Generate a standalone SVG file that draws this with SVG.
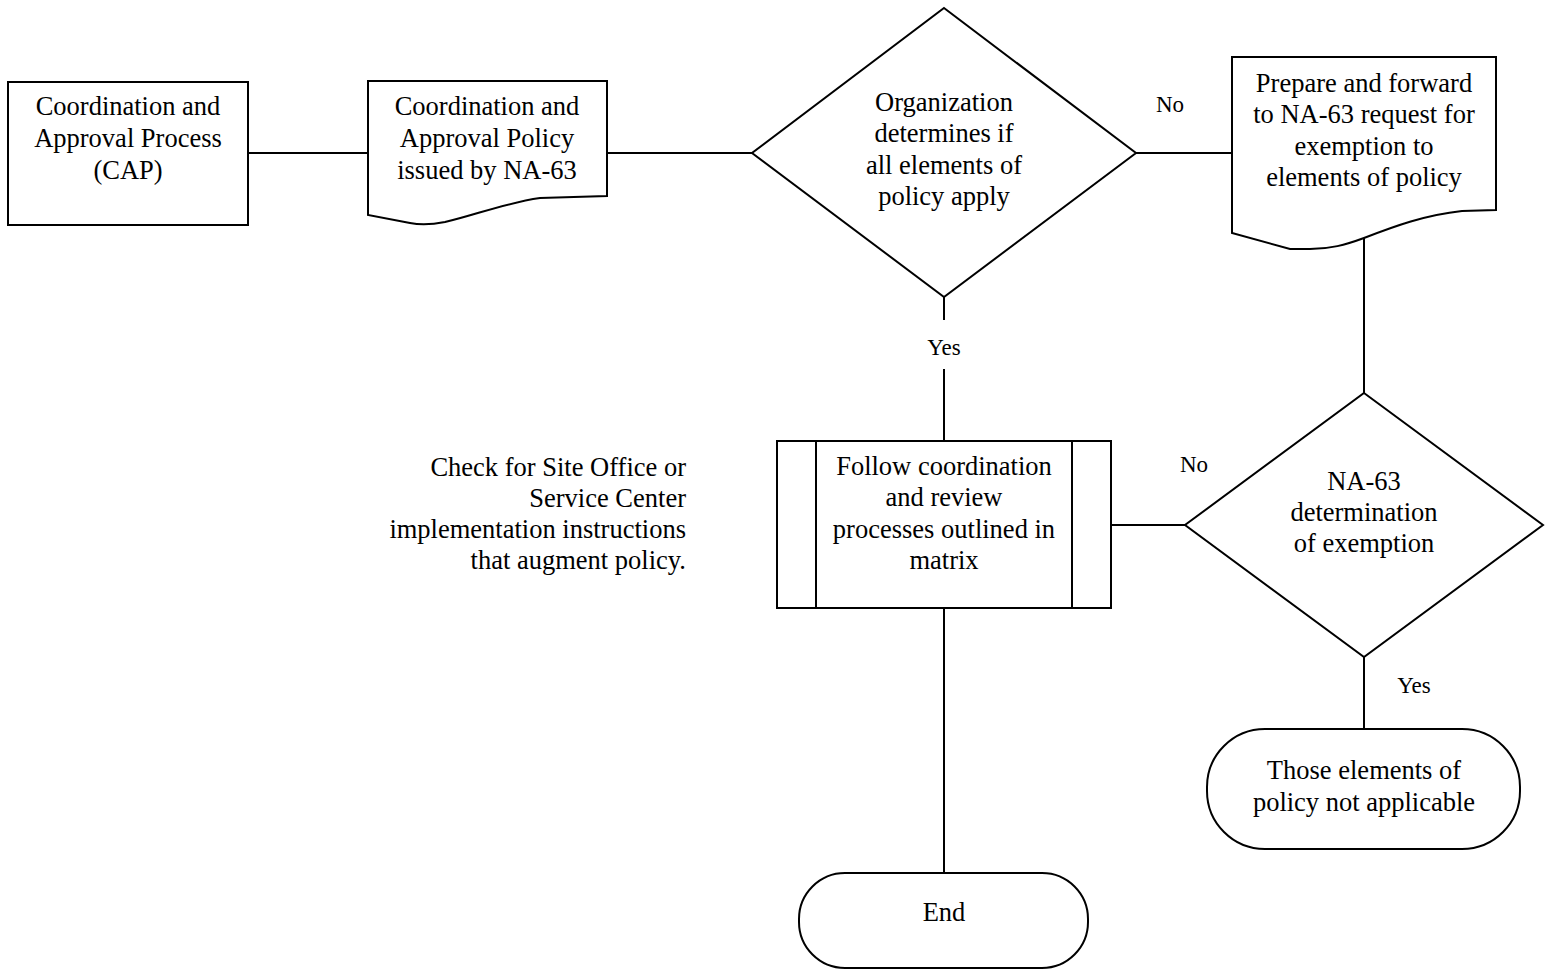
<svg xmlns="http://www.w3.org/2000/svg" width="1551" height="969" viewBox="0 0 1551 969">
<style>
.s{fill:#fff;stroke:#000;stroke-width:2}
.c{fill:none;stroke:#000;stroke-width:2}
text{font-family:"Liberation Serif","Times New Roman",serif;font-size:26.5px;fill:#000;text-anchor:middle}
.l{font-size:23px}
.r{text-anchor:end}
</style>
<rect width="1551" height="969" fill="#fff"/>
<g id="connectors">
<line class="c" x1="248" y1="153" x2="368" y2="153"/>
<line class="c" x1="607" y1="153" x2="752" y2="153"/>
<line class="c" x1="1136" y1="153" x2="1232" y2="153"/>
<line class="c" x1="944" y1="297" x2="944" y2="320"/>
<line class="c" x1="944" y1="369" x2="944" y2="441"/>
<line class="c" x1="1364" y1="238" x2="1364" y2="393"/>
<line class="c" x1="1111" y1="525" x2="1185" y2="525"/>
<line class="c" x1="1364" y1="657" x2="1364" y2="729"/>
<line class="c" x1="944" y1="608" x2="944" y2="873"/>
<text class="l" x="1170" y="112">No</text>
<text class="l" x="944" y="355">Yes</text>
<text class="l" x="1194" y="472">No</text>
<text class="l" x="1414" y="693">Yes</text>
</g>
<g id="cap">
<rect class="s" x="8" y="82" width="240" height="143"/>
<text x="128" y="115">Coordination and</text>
<text x="128" y="147">Approval Process</text>
<text x="128" y="179">(CAP)</text>
</g>
<g id="policy">
<path class="s" d="M368,81 H607 V196 L540,198 C505,203 475,215 445,222 C430,225 420,225 410,223 L368,215 Z"/>
<text x="487" y="115">Coordination and</text>
<text x="487" y="147">Approval Policy</text>
<text x="487" y="179">issued by NA-63</text>
</g>
<g id="decision1">
<path class="s" d="M944,8 L1136,153 L944,297 L752,153 Z"/>
<text x="944" y="111">Organization</text>
<text x="944" y="142">determines if</text>
<text x="944" y="174">all elements of</text>
<text x="944" y="205">policy apply</text>
</g>
<g id="exemption-request">
<path class="s" d="M1232,57 H1496 V210 L1462,211 C1425,215 1395,226 1364,238 C1345,245 1330,249 1310,249 L1290,249 L1232,233 Z"/>
<text x="1364" y="92">Prepare and forward</text>
<text x="1364" y="123">to NA-63 request for</text>
<text x="1364" y="155">exemption to</text>
<text x="1364" y="186">elements of policy</text>
</g>
<g id="process">
<rect class="s" x="777" y="441" width="334" height="167"/>
<line class="c" x1="816" y1="441" x2="816" y2="608"/>
<line class="c" x1="1072" y1="441" x2="1072" y2="608"/>
<text x="944" y="475">Follow coordination</text>
<text x="944" y="506">and review</text>
<text x="944" y="538">processes outlined in</text>
<text x="944" y="569">matrix</text>
</g>
<g id="decision2">
<path class="s" d="M1364,393 L1543,525 L1364,657 L1185,525 Z"/>
<text x="1364" y="490">NA-63</text>
<text x="1364" y="521">determination</text>
<text x="1364" y="552">of exemption</text>
</g>
<g id="not-applicable">
<rect class="s" x="1207" y="729" width="313" height="120" rx="58" ry="58"/>
<text x="1364" y="779">Those elements of</text>
<text x="1364" y="811">policy not applicable</text>
</g>
<g id="end">
<rect class="s" x="799" y="873" width="289" height="95" rx="46" ry="46"/>
<text x="944" y="921">End</text>
</g>
<g id="note">
<text class="r" x="686" y="476">Check for Site Office or</text>
<text class="r" x="686" y="507">Service Center</text>
<text class="r" x="686" y="538">implementation instructions</text>
<text class="r" x="686" y="569">that augment policy.</text>
</g>
</svg>
